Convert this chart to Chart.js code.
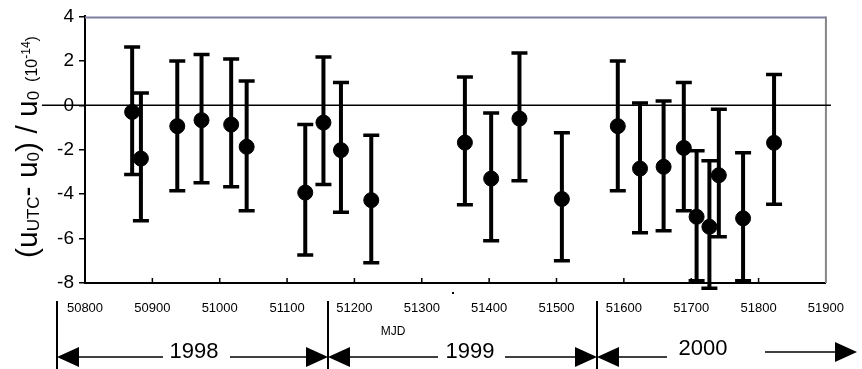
<!DOCTYPE html>
<html>
<head>
<meta charset="utf-8">
<script src="https://cdn.jsdelivr.net/npm/chart.js@4.4.1/dist/chart.umd.min.js"></script>
<style>
body{margin:0;background:#fff}
canvas{display:block}
</style>
</head>
<body>
<canvas id="devChart" width="862" height="369"></canvas>
<script>
/* =====================================================
DATA
===================================================== */

const mjd=[50870,50883,50937,50973,51017,51040,51127,51154,51180,51225,51364,51403,51445,51508,51591,51624,51659,51689,51708,51727,51741,51777,51823]
const dev=[-0.3,-2.4,-0.94,-0.67,-0.87,-1.87,-3.93,-0.78,-2.02,-4.27,-1.68,-3.3,-0.6,-4.22,-0.94,-2.85,-2.77,-1.92,-5.02,-5.47,-3.15,-5.09,-1.69]
const errTop=[2.62,0.55,1.99,2.28,2.08,1.09,-0.87,2.17,1.02,-1.35,1.27,-0.35,2.35,-1.24,1.99,0.1,0.19,1.02,-2.05,-2.5,-0.18,-2.14,1.38]
const errBottom=[-3.12,-5.2,-3.85,-3.49,-3.67,-4.75,-6.74,-3.57,-4.82,-7.09,-4.48,-6.1,-3.4,-7.0,-3.85,-5.74,-5.65,-4.75,-7.9,-8.24,-5.92,-7.9,-4.46]
const xTicks=[50800,50900,51000,51100,51200,51300,51400,51500,51600,51700,51800,51900]
const yTicks=[4,2,0,-2,-4,-6,-8]
const years=["1998","1999","2000"]

const FONT="'Liberation Sans', Arial, sans-serif"


/* =====================================================
DECORATION PLUGIN
===================================================== */

const deco={
id:"deco",

beforeDatasetsDraw(chart){

const ctx=chart.ctx
const xs=chart.scales.x
const ys=chart.scales.y

ctx.save()
ctx.strokeStyle="#000"

mjd.forEach((m,i)=>{
const px=xs.getPixelForValue(m)
const top=ys.getPixelForValue(errTop[i])
const bot=ys.getPixelForValue(errBottom[i])

ctx.lineWidth=4
ctx.beginPath()
ctx.moveTo(px,top)
ctx.lineTo(px,bot)
ctx.stroke()

ctx.lineWidth=3.5
ctx.beginPath()
ctx.moveTo(px-8,top)
ctx.lineTo(px+8,top)
ctx.moveTo(px-8,bot)
ctx.lineTo(px+8,bot)
ctx.stroke()
})

ctx.restore()

},

afterDraw(chart){

const ctx=chart.ctx
const a=chart.chartArea
const xs=chart.scales.x
const ys=chart.scales.y

ctx.save()

/* top and right frame */
ctx.lineWidth=2
ctx.strokeStyle="#7f7f9f"
ctx.beginPath()
ctx.moveTo(a.left,a.top+1)
ctx.lineTo(a.right,a.top+1)
ctx.stroke()
ctx.strokeStyle="#868686"
ctx.beginPath()
ctx.moveTo(a.right,a.top)
ctx.lineTo(a.right,a.bottom)
ctx.stroke()

/* zero line */
const y0=ys.getPixelForValue(0)
ctx.strokeStyle="#000"
ctx.lineWidth=1.5
ctx.beginPath()
ctx.moveTo(42,y0)
ctx.lineTo(a.right+5,y0)
ctx.stroke()

/* inner ticks on bottom axis */
ctx.lineWidth=1.5
ctx.beginPath()
xTicks.slice(1,-1).forEach(t=>{
const px=xs.getPixelForValue(t)
ctx.moveTo(px,a.bottom)
ctx.lineTo(px,a.bottom-5)
})
ctx.stroke()

/* y axis title */
const parts=[
["(u",30,0],
["UTC",17,2],
["- u",30,0],
["0",17,2],
[") / u",30,0],
["0",17,2],
["  (10",16,0],
["-14",12,-7],
[")",16,0]
]
ctx.translate(37,258)
ctx.rotate(-Math.PI/2)
ctx.fillStyle="#000"
ctx.textBaseline="alphabetic"
ctx.textAlign="left"
let cx=0
parts.forEach(p=>{
ctx.font=p[1]+"px "+FONT
ctx.fillText(p[0],cx,p[2])
cx+=ctx.measureText(p[0]).width
})
ctx.setTransform(1,0,0,1,0,0)

/* MJD label and stray dot */
ctx.font="12px "+FONT
ctx.textAlign="center"
ctx.textBaseline="middle"
ctx.fillText("MJD",393,332)
ctx.fillRect(452,292,2,2)

/* year separators */
ctx.lineWidth=2
ctx.beginPath()
;[57,328,597].forEach(x=>{
ctx.moveTo(x,301)
ctx.lineTo(x,369)
})
ctx.stroke()

/* arrows */
const ay=357
function head(tipX,y,dir){
ctx.beginPath()
ctx.moveTo(tipX,y)
ctx.lineTo(tipX-dir*22,y-10)
ctx.lineTo(tipX-dir*22,y+10)
ctx.closePath()
ctx.fill()
}
function seg(x1,x2,y){
ctx.lineWidth=1.5
ctx.beginPath()
ctx.moveTo(x1,y)
ctx.lineTo(x2,y)
ctx.stroke()
}

seg(79,163,ay); seg(230,307,ay)
head(57,ay,-1); head(328,ay,1)
seg(350,438,ay); seg(505,576,ay)
head(328,ay,-1); head(597,ay,1)
seg(619,667,ay)
head(597,ay,-1)
seg(765,836,352)
head(857,352,1)

ctx.font="22px "+FONT
ctx.textAlign="center"
ctx.textBaseline="alphabetic"
ctx.fillText(years[0],194,358)
ctx.fillText(years[1],470,358)
ctx.fillText(years[2],703,355)

ctx.restore()

}
}


/* =====================================================
CHART
===================================================== */

new Chart(document.getElementById("devChart"),{
type:"scatter",
data:{
datasets:[{
data:mjd.map((m,i)=>({x:m,y:dev[i]})),
backgroundColor:"#000",
borderColor:"#000",
pointRadius:7.5,
pointHoverRadius:7.5,
clip:false
}]
},
options:{
responsive:false,
animation:false,
events:[],
layout:{padding:{left:0,top:16,right:20,bottom:0}},
plugins:{legend:{display:false},tooltip:{enabled:false}},
scales:{
x:{
type:"linear",
min:50800,
max:51900,
afterBuildTicks(s){s.ticks=xTicks.map(v=>({value:v}))},
afterFit(s){s.height=86},
grid:{display:false,drawTicks:false},
border:{display:true,color:"#000",width:2},
ticks:{
autoSkip:false,
maxRotation:0,
padding:18,
color:"#000",
font:{family:FONT,size:13},
callback:v=>String(v)
}
},
y:{
min:-8,
max:4,
afterBuildTicks(s){s.ticks=yTicks.map(v=>({value:v}))},
afterFit(s){s.width=85},
grid:{drawOnChartArea:false,drawTicks:true,tickLength:6,color:"#000",lineWidth:1.5},
border:{display:true,color:"#000",width:2},
ticks:{
padding:5,
color:"#000",
font:{family:FONT,size:19},
callback:v=>String(v)
}
}
}
},
plugins:[deco]
})
</script>
</body>
</html>
